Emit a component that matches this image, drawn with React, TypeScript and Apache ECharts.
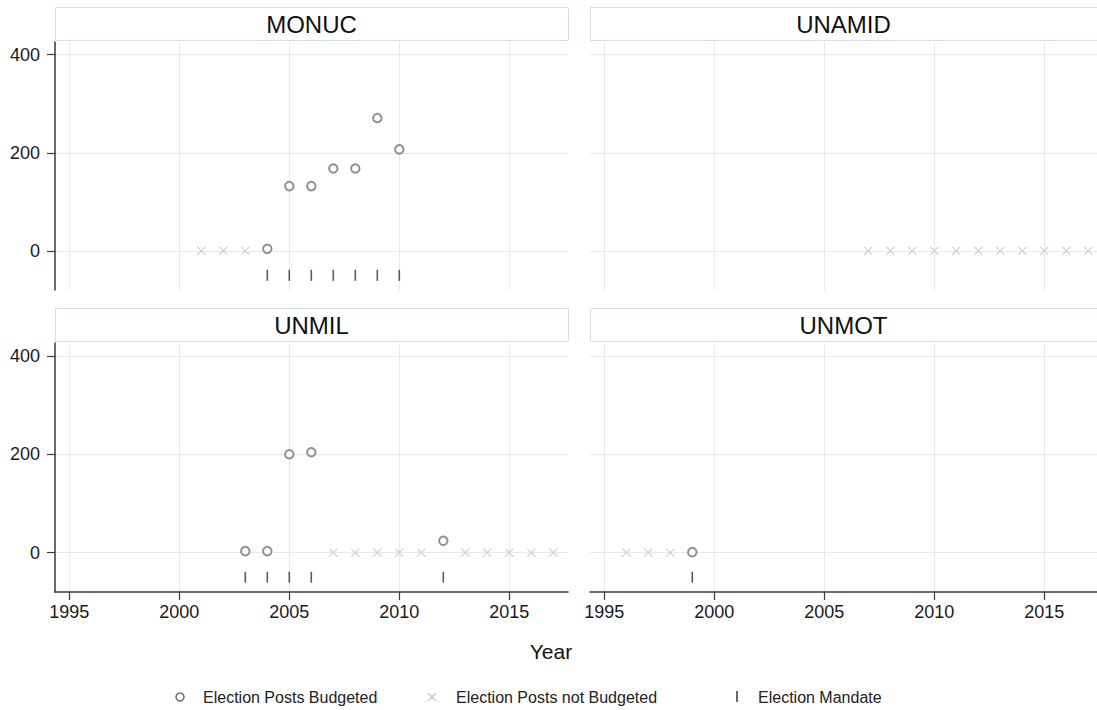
import React, { useEffect, useRef } from "react";
import * as echarts from "echarts";

// ---- data ----
const missions = ["MONUC", "UNAMID", "UNMIL", "UNMOT"];

const monucBudgetYears = [2004, 2005, 2006, 2007, 2008, 2009, 2010];
const monucBudgetPosts = [4, 132, 132, 168, 168, 271, 207];
const monucNotBudgetYears = [2001, 2002, 2003];
const monucMandateYears = [2004, 2005, 2006, 2007, 2008, 2009, 2010];

const unamidBudgetYears: number[] = [];
const unamidBudgetPosts: number[] = [];
const unamidNotBudgetYears = [2007, 2008, 2009, 2010, 2011, 2012, 2013, 2014, 2015, 2016, 2017];
const unamidMandateYears: number[] = [];

const unmilBudgetYears = [2003, 2004, 2005, 2006, 2012];
const unmilBudgetPosts = [3, 3, 200, 204, 24];
const unmilNotBudgetYears = [2007, 2008, 2009, 2010, 2011, 2013, 2014, 2015, 2016, 2017];
const unmilMandateYears = [2003, 2004, 2005, 2006, 2012];

const unmotBudgetYears = [1999];
const unmotBudgetPosts = [1];
const unmotNotBudgetYears = [1996, 1997, 1998];
const unmotMandateYears = [1999];

const yTicks = [0, 200, 400];
const xTicks = [1995, 2000, 2005, 2010, 2015];

const legendLabels = ["Election Posts Budgeted", "Election Posts not Budgeted", "Election Mandate"];
const xAxisTitle = "Year";

// ---- layout / style (not data) ----
const NOT_BUDGETED_Y = 0;
const MANDATE_Y = -50;
const FONT = "'Liberation Sans', Arial, Helvetica, sans-serif";
const GRID_COLOR = "#e6eaee";
const AXIS_COLOR = "#3a3a3a";
const CROSS_PATH = "path://M0,1L1,0L5,4L9,0L10,1L6,5L10,9L9,10L5,6L1,10L0,9L4,5Z";

const panels = [
  { name: missions[0], by: monucBudgetYears, bp: monucBudgetPosts, nb: monucNotBudgetYears, md: monucMandateYears },
  { name: missions[1], by: unamidBudgetYears, bp: unamidBudgetPosts, nb: unamidNotBudgetYears, md: unamidMandateYears },
  { name: missions[2], by: unmilBudgetYears, bp: unmilBudgetPosts, nb: unmilNotBudgetYears, md: unmilMandateYears },
  { name: missions[3], by: unmotBudgetYears, bp: unmotBudgetPosts, nb: unmotNotBudgetYears, md: unmotMandateYears },
];

const PX_PER_YEAR = 22;
const X_MIN = 1994.35;
const grids = [
  { left: 55, top: 42, width: 513, height: 248 },
  { left: 590, top: 42, width: 507, height: 248 },
  { left: 55, top: 343, width: 513, height: 249 },
  { left: 590, top: 343, width: 507, height: 249 },
];

function buildOption() {
  const xAxis: any[] = [];
  const yAxis: any[] = [];
  const series: any[] = [];
  const graphic: any[] = [];

  grids.forEach((g, i) => {
    const isLeft = i % 2 === 0;
    const isBottom = i >= 2;
    xAxis.push({
      type: "value",
      gridIndex: i,
      min: X_MIN,
      max: X_MIN + g.width / PX_PER_YEAR,
      axisLine: { show: isBottom, onZero: false, lineStyle: { color: AXIS_COLOR, width: 1.5 } },
      axisTick: { show: isBottom, length: 8, customValues: xTicks, lineStyle: { color: AXIS_COLOR, width: 1.2 } },
      axisLabel: {
        show: isBottom,
        customValues: xTicks,
        formatter: (v: number) => String(v),
        color: "#1a1a1a",
        fontSize: 18,
        fontFamily: FONT,
        margin: 11,
      },
      splitLine: { show: true, lineStyle: { color: GRID_COLOR, width: 1 } },
    });
    yAxis.push({
      type: "value",
      gridIndex: i,
      min: -80,
      max: 426,
      axisLine: { show: isLeft, onZero: false, lineStyle: { color: AXIS_COLOR, width: 1.5 } },
      axisTick: { show: isLeft, length: 8, customValues: yTicks, lineStyle: { color: AXIS_COLOR, width: 1.2 } },
      axisLabel: {
        show: isLeft,
        customValues: yTicks,
        formatter: (v: number) => String(v),
        color: "#1a1a1a",
        fontSize: 18,
        fontFamily: FONT,
        margin: 15,
      },
      splitLine: { show: true, lineStyle: { color: GRID_COLOR, width: 1 } },
    });

    const p = panels[i];
    series.push({
      type: "scatter",
      name: legendLabels[1],
      xAxisIndex: i,
      yAxisIndex: i,
      symbol: CROSS_PATH,
      symbolSize: 9,
      itemStyle: { color: "#c8c8c8" },
      data: p.nb.map((y) => [y, NOT_BUDGETED_Y]),
    });
    series.push({
      type: "scatter",
      name: legendLabels[0],
      xAxisIndex: i,
      yAxisIndex: i,
      symbol: "emptyCircle",
      symbolSize: 8.5,
      itemStyle: { color: "#777", borderWidth: 1.7 },
      data: p.by.map((y, k) => [y, p.bp[k]]),
    });
    series.push({
      type: "scatter",
      name: legendLabels[2],
      xAxisIndex: i,
      yAxisIndex: i,
      symbol: "rect",
      symbolSize: [1.6, 11],
      itemStyle: { color: "#333" },
      data: p.md.map((y) => [y, MANDATE_Y]),
    });

    // panel title box
    const boxW = isLeft ? g.width : g.width + 10;
    graphic.push({
      type: "rect",
      left: g.left,
      top: g.top - 35,
      shape: { width: boxW, height: 33 },
      style: { fill: "#fff", stroke: "#d3e0e8", lineWidth: 1 },
      z: 10,
    });
    graphic.push({
      type: "text",
      x: g.left + g.width / 2,
      y: g.top - 18,
      style: {
        text: p.name,
        fontSize: 24,
        fontFamily: FONT,
        fill: "#111",
        textAlign: "center",
        textVerticalAlign: "middle",
      },
      z: 11,
    });
  });

  // x axis title
  graphic.push({
    type: "text",
    x: 551,
    y: 651,
    style: { text: xAxisTitle, fontSize: 21, fontFamily: FONT, fill: "#111", textAlign: "center", textVerticalAlign: "middle" },
  });

  // legend
  const ly = 697;
  graphic.push({ type: "circle", shape: { cx: 180, cy: ly, r: 4 }, style: { fill: "#fff", stroke: "#777", lineWidth: 1.6 } });
  graphic.push({ type: "line", shape: { x1: 428, y1: ly - 4, x2: 436, y2: ly + 4 }, style: { stroke: "#c8c8c8", lineWidth: 1.5 } });
  graphic.push({ type: "line", shape: { x1: 436, y1: ly - 4, x2: 428, y2: ly + 4 }, style: { stroke: "#c8c8c8", lineWidth: 1.5 } });
  graphic.push({ type: "rect", shape: { x: 736.2, y: ly - 6, width: 1.6, height: 11 }, style: { fill: "#444" } });
  [203, 456, 758].forEach((x, k) => {
    graphic.push({
      type: "text",
      x,
      y: ly,
      style: { text: legendLabels[k], fontSize: 16, fontFamily: FONT, fill: "#222", textVerticalAlign: "middle" },
    });
  });

  return {
    animation: false,
    backgroundColor: "#fff",
    grid: grids.map((g) => ({ ...g, containLabel: false })),
    xAxis,
    yAxis,
    series,
    graphic,
  };
}

export default function App() {
  const ref = useRef<HTMLDivElement>(null);
  useEffect(() => {
    if (!ref.current) return;
    const chart = echarts.init(ref.current, null, { renderer: "svg" });
    chart.setOption(buildOption() as any);
    return () => chart.dispose();
  }, []);
  return (
    <div
      ref={ref}
      style={{ position: "absolute", left: 0, top: 0, width: 1097, height: 710, background: "#fff" }}
    />
  );
}
